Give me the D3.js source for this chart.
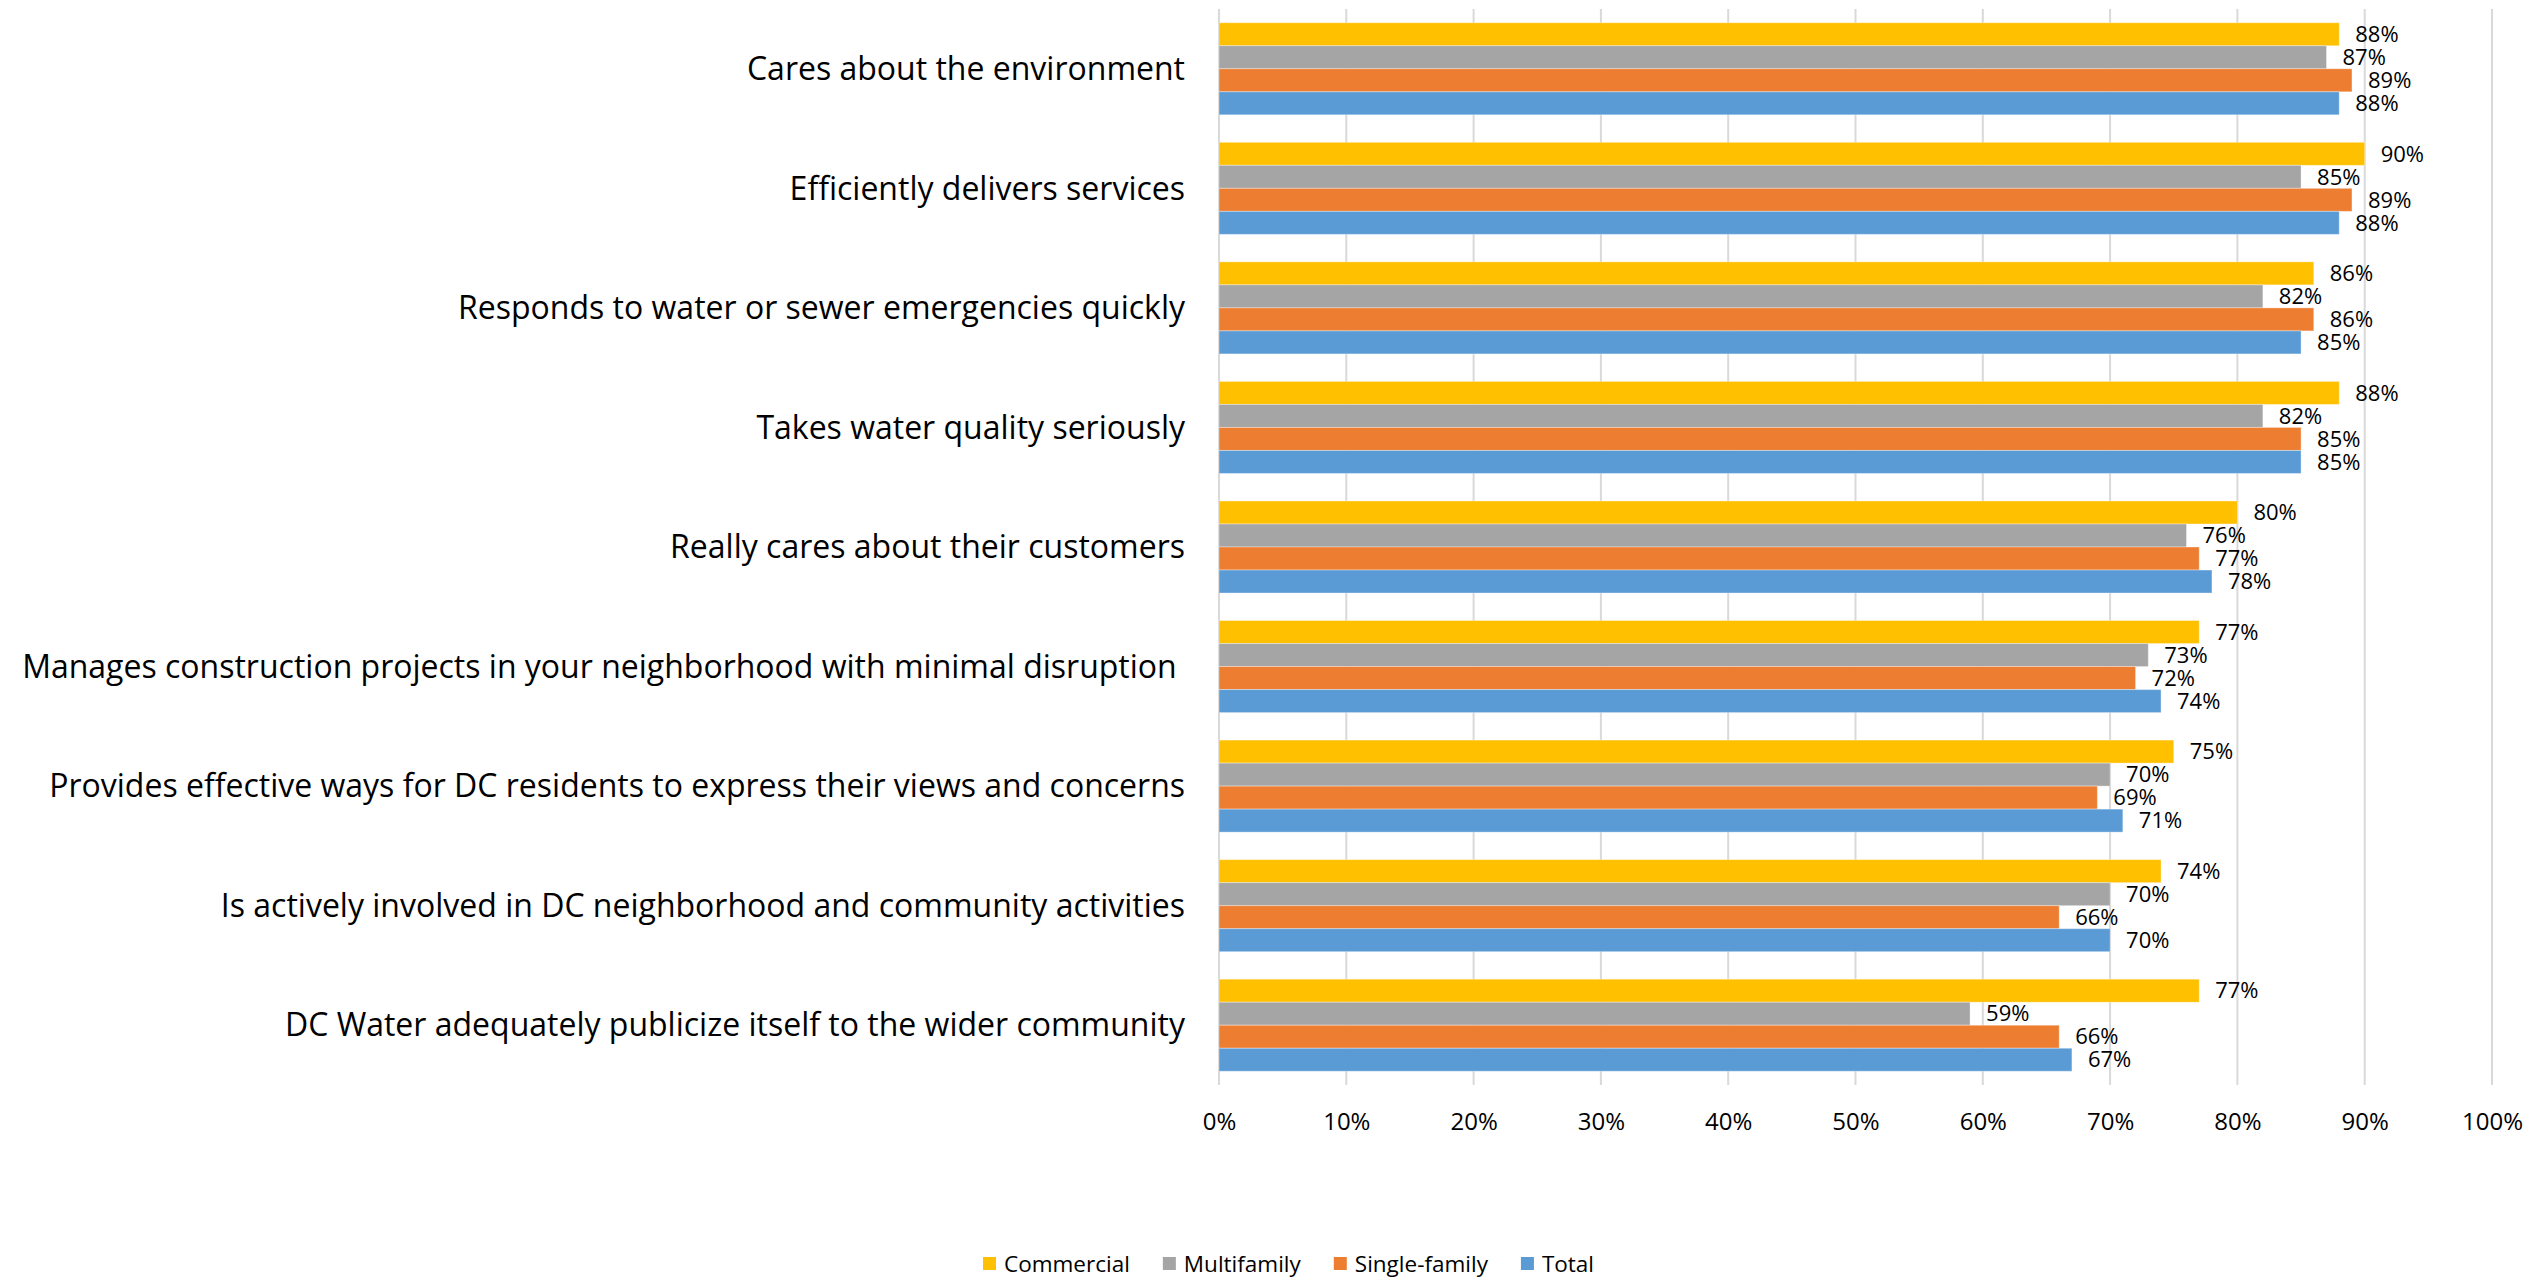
<!DOCTYPE html>
<html>
<head>
<meta charset="utf-8">
<script src="https://cdn.jsdelivr.net/npm/d3@7"></script>
<style>
  body { margin: 0; background: #fff; }
  svg { display: block; font-family: "Open Sans", "Noto Sans", sans-serif; }
</style>
</head>
<body>
<div id="chart"></div>
<script>
const categories = [
  "Cares about the environment",
  "Efficiently delivers services",
  "Responds to water or sewer emergencies quickly",
  "Takes water quality seriously",
  "Really cares about their customers",
  "Manages construction projects in your neighborhood with minimal disruption ",
  "Provides effective ways for DC residents to express their views and concerns",
  "Is actively involved in DC neighborhood and community activities",
  "DC Water adequately publicize itself to the wider community"
];

const seriesNames = ["Commercial", "Multifamily", "Single-family", "Total"];

const commercial = [88, 90, 86, 88, 80, 77, 75, 74, 77];
const multifamily = [87, 85, 82, 82, 76, 73, 70, 70, 59];
const singleFamily = [89, 89, 86, 85, 77, 72, 69, 66, 66];
const total = [88, 88, 85, 85, 78, 74, 71, 70, 67];

const xTicks = [0, 10, 20, 30, 40, 50, 60, 70, 80, 90, 100];

const colors = ["#FFC000", "#A5A5A5", "#ED7D31", "#5B9BD5"];

const seriesValues = [commercial, multifamily, singleFamily, total];

const W = 2545, H = 1280;
const margin = { top: 9, right: 53, bottom: 195, left: 1219 };
const width = W - margin.left - margin.right,
  height = H - margin.top - margin.bottom;

const svg = d3
  .select("#chart")
  .append("svg")
  .attr("width", W)
  .attr("height", H);

const g = svg
  .append("g")
  .attr("transform", `translate(${margin.left},${margin.top})`);

const x = d3.scaleLinear().domain([0, 100]).range([0, width]);

const y = d3
  .scaleBand()
  .domain(categories)
  .range([0, height])
  .paddingInner(0.23)
  .paddingOuter(0.115);

const ySub = d3
  .scaleBand()
  .domain(seriesNames)
  .range([0, y.bandwidth()]);

// gridlines
g.append("g")
  .selectAll("line")
  .data(xTicks)
  .enter()
  .append("line")
  .attr("x1", (d) => x(d))
  .attr("x2", (d) => x(d))
  .attr("y1", 0)
  .attr("y2", height)
  .attr("stroke", "#D9D9D9")
  .attr("stroke-width", 2);

// x axis labels
const xAxis = g
  .append("g")
  .attr("transform", `translate(0,${height})`)
  .call(
    d3.axisBottom(x)
      .tickValues(xTicks)
      .tickSize(0)
      .tickPadding(37)
      .tickFormat((d) => d + "%")
  );
xAxis.select(".domain").remove();
xAxis
  .selectAll("text")
  .attr("dy", "0.35em")
  .style("font-size", "24px")
  .style("font-family", "'Open Sans', sans-serif")
  .attr("fill", "#000");

// category labels
g.append("g")
  .selectAll("text")
  .data(categories)
  .enter()
  .append("text")
  .attr("x", -34)
  .attr("y", (d) => y(d) + y.bandwidth() / 2)
  .attr("dy", "0.35em")
  .attr("text-anchor", "end")
  .style("white-space", "pre")
  .style("font-size", "32px")
  .attr("fill", "#000")
  .text((d) => d);

// bars
const groups = g
  .append("g")
  .selectAll("g")
  .data(categories)
  .enter()
  .append("g")
  .attr("transform", (d) => `translate(0,${y(d)})`);

const rows = groups
  .selectAll("g")
  .data((d, i) =>
    seriesNames.map((s, j) => ({ series: s, value: seriesValues[j][i], color: colors[j] }))
  )
  .enter()
  .append("g");

rows
  .append("rect")
  .attr("x", 0)
  .attr("y", (d) => ySub(d.series))
  .attr("width", (d) => x(d.value))
  .attr("height", ySub.bandwidth())
  .attr("fill", (d) => d.color)
  .attr("stroke", "#fff")
  .attr("stroke-opacity", 0.35)
  .attr("stroke-width", 1);

rows
  .append("text")
  .attr("x", (d) => x(d.value) + 16)
  .attr("y", (d) => ySub(d.series) + ySub.bandwidth() / 2)
  .attr("dy", "0.35em")
  .style("font-size", "22px")
  .attr("fill", "#000")
  .text((d) => d.value + "%");

// legend
const legend = svg.append("g").attr("transform", "translate(0,1264)");

const items = legend
  .selectAll("g")
  .data(seriesNames)
  .enter()
  .append("g");

items
  .append("rect")
  .attr("x", 0)
  .attr("y", -7)
  .attr("width", 13)
  .attr("height", 13)
  .attr("fill", (d, i) => colors[i]);

items
  .append("text")
  .attr("x", 21)
  .attr("y", 0)
  .attr("dy", "0.35em")
  .style("font-size", "22.5px")
  .attr("fill", "#000")
  .text((d) => d);

let offset = 0;
const positions = [];
items.each(function () {
  const w = d3.select(this).select("text").node().getComputedTextLength();
  positions.push(offset);
  offset += 21 + w + 33;
});
const legendStart = 983;
items.attr("transform", (d, i) => `translate(${legendStart + positions[i]},0)`);
</script>
</body>
</html>
